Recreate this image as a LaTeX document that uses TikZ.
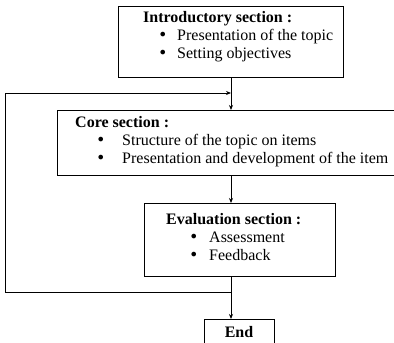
\documentclass[tikz,border=0pt]{standalone}
\usepackage{fontspec}
\setmainfont{Liberation Serif}
\newfontfamily\bulletfont{DejaVu Sans}
\usetikzlibrary{arrows.meta,positioning}
\tikzset{
    % Boxes
    section box/.style={draw,line width=1pt,anchor=north west,inner sep=0pt},
    section text/.style={anchor=north west,inner sep=0pt,align=left,font=\fontsize{16}{18}\selectfont},
    end box/.style={draw,line width=1pt,anchor=north,inner sep=0pt,minimum width=70,minimum height=26,font=\fontsize{16}{18}\selectfont\bfseries},
    %
    % Arrows
    arrow tip/.tip={Stealth[length=5pt,width=4pt]},
    arr/.style={->,>={arrow tip},line width=1pt},
}
\newcommand{\bulletline}[3]{\hspace*{#1}\makebox[#2][l]{{\bulletfont\textbullet}}#3}

\begin{document}
\begin{tikzpicture}[x=1pt,y=-1pt]
    \useasboundingbox (0,0) rectangle (394,343);
    \clip (0,0) rectangle (394,343);
    % Introductory section
    \node[section box,minimum width=225,minimum height=71] (intro) at (118,6) {};
    \node[section text] (intro text) at ([shift={(25,5)}]intro.north west)
        {\textbf{Introductory section :}\\
         \bulletline{15pt}{19pt}{Presentation of the topic}\\
         \bulletline{15pt}{19pt}{Setting objectives}};
    % Core section
    \node[section box,minimum width=345,minimum height=65] (core) at (57,110) {};
    \node[section text] (core text) at ([shift={(18,6)}]core.north west)
        {\textbf{Core section :}\\
         \bulletline{21pt}{26pt}{Structure of the topic on items}\\
         \bulletline{21pt}{26pt}{Presentation and development of the item}};
    % Evaluation section
    \node[section box,minimum width=191,minimum height=73] (eval) at (144,203) {};
    \node[section text] (eval text) at ([shift={(22,10)}]eval.north west)
        {\textbf{Evaluation section :}\\
         \bulletline{23pt}{20pt}{Assessment}\\
         \bulletline{23pt}{20pt}{Feedback}};
    \node[end box] (end) at (239,319) {End};
    % Main flow
    \draw[arr] (intro.south) -- (intro.south |- core.north);
    \draw[arr] (intro.south |- core.south) -- (intro.south |- eval.north);
    \draw[arr] (intro.south |- eval.south) -- (intro.south |- end.north);
    % Loop back to the core section
    \coordinate (loop low) at (intro.south |- 0,292);
    \coordinate (loop left) at (5,93);
    \coordinate (loop high) at (intro.south |- 0,93);
    \draw[arr] (loop low) -| (loop left) -- (loop high);
\end{tikzpicture}
\end{document}
